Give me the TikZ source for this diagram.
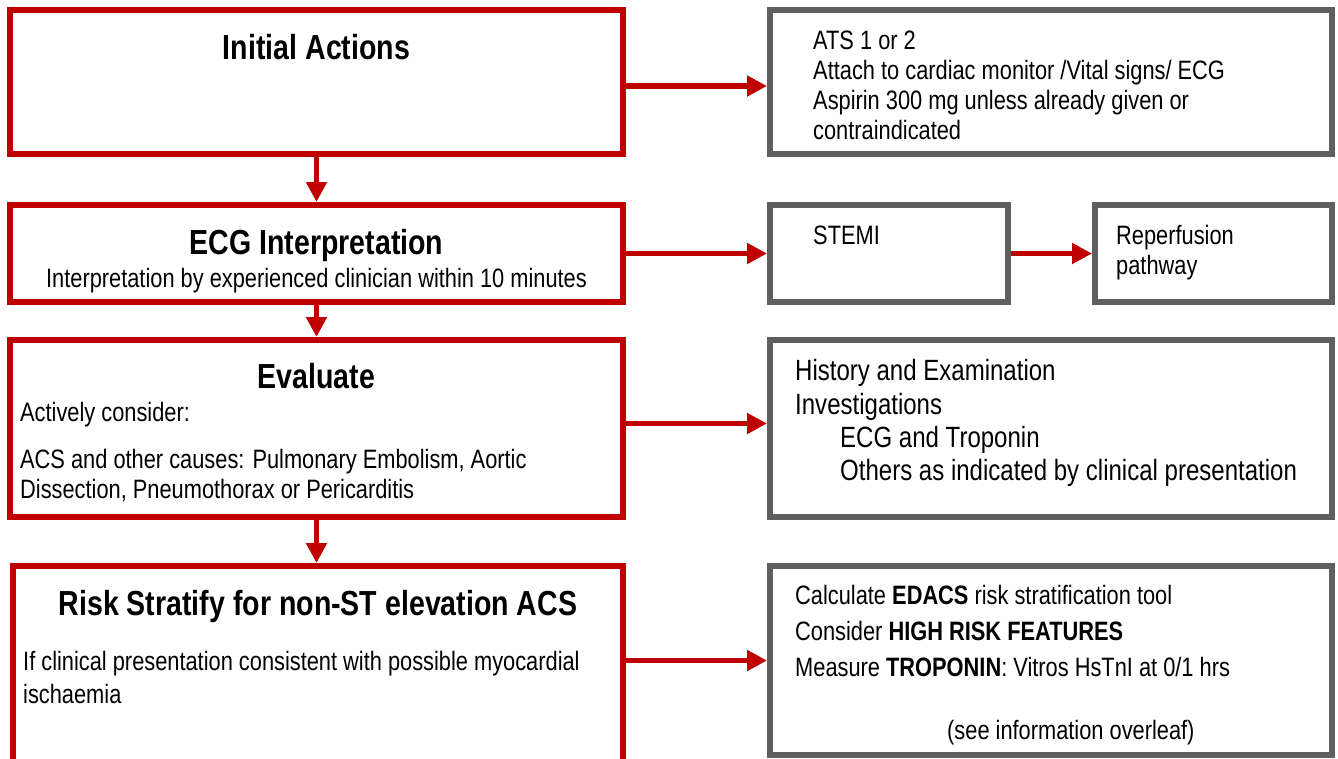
\documentclass[tikz,border=0pt]{standalone}
\usepackage{fontspec}
\setmainfont{Liberation Sans}[FakeStretch=0.82]
\usetikzlibrary{arrows.meta}
\definecolor{cred}{HTML}{C00000}
\definecolor{cgrey}{HTML}{5F5F5F}
\newcommand{\bodyfont}{\fontsize{26.6}{30}\selectfont}
\newcommand{\histfont}{\fontsize{29.3}{33}\selectfont}
\newcommand{\titlefont}{\fontsize{34.8}{40}\selectfont\bfseries}
\tikzset{
  redbox/.style={draw=cred, line width=6pt, fill=white, inner sep=0pt},
  greybox/.style={draw=cgrey, line width=6pt, fill=white, inner sep=0pt},
  arr/.style={draw=cred, line width=5.5pt, -{Triangle[length=20pt,width=20pt]}},
  txt/.style={anchor=base west, inner sep=0pt, font=\bodyfont},
  htxt/.style={anchor=base west, inner sep=0pt, font=\histfont},
  ttl/.style={anchor=base, inner sep=0pt, font=\titlefont},
}
\begin{document}
\begin{tikzpicture}[x=1pt, y=-1pt]
\useasboundingbox (0,0) rectangle (1338,758);
\clip (0,0) rectangle (1338,758);
% boxes
\node[redbox, minimum width=613pt, minimum height=144pt] (b1) at (316.5,82) {};
\node[greybox, minimum width=562pt, minimum height=144pt] (g1) at (1051,82) {};
\node[redbox, minimum width=613pt, minimum height=97pt] (b2) at (316.5,253.5) {};
\node[greybox, minimum width=238pt, minimum height=97pt] (g2) at (889,253.5) {};
\node[greybox, minimum width=237pt, minimum height=97pt] (g3) at (1213.5,253.5) {};
\node[redbox, minimum width=613pt, minimum height=177pt] (b3) at (316.5,428.5) {};
\node[greybox, minimum width=562pt, minimum height=177pt] (g4) at (1051,428.5) {};
\node[redbox, minimum width=610pt, minimum height=198pt] (b4) at (318,665) {};
\node[greybox, minimum width=562pt, minimum height=189pt] (g5) at (1051,660.5) {};
% connectors
\draw[arr] (b1.south) -- (b2.north);
\draw[arr] (b2.south) -- (b3.north);
\draw[arr] (b3.south) -- (b3.south |- b4.north);
\draw[arr] ([yshift=-4pt]b1.east) -- ([yshift=-4pt]g1.west);
\draw[arr] (b2.east) -- (g2.west);
\draw[arr] (g2.east) -- (g3.west);
\draw[arr] ([yshift=5pt]b3.east) -- ([yshift=5pt]g4.west);
\draw[arr] (g5.west -| b4.east) -- (g5.west);
% texts
\node[ttl] (t1) at (316.5,59) {Initial Actions};
\node[txt] (g1a) at (813,49) {ATS 1 or 2};
\node[txt] (g1b) at (813,79) {Attach to cardiac monitor /Vital signs/ ECG};
\node[txt] (g1c) at (813,109) {Aspirin 300 mg unless already given or};
\node[txt] (g1d) at (813,139) {contraindicated};
\node[ttl] (t2) at (316.5,254) {ECG Interpretation};
\node[anchor=base, inner sep=0pt, font=\bodyfont] (t2b) at (316.5,287) {Interpretation by experienced clinician within 10 minutes};
\node[txt] (g2a) at (813,244) {STEMI};
\node[txt] (g3a) at (1116,244) {Reperfusion};
\node[txt] (g3b) at (1116,274) {pathway};
\node[ttl] (t3) at (316.5,388) {Evaluate};
\node[txt] (t3a) at (20,421) {Actively consider:};
\node[txt] (t3b) at (20,468) {ACS and other causes: Pulmonary Embolism, Aortic};
\node[txt] (t3c) at (20,498) {Dissection, Pneumothorax or Pericarditis};
\node[htxt] (g4a) at (795,380) {History and Examination};
\node[htxt] (g4b) at (795,414) {Investigations};
\node[htxt] (g4c) at (840,447) {ECG and Troponin};
\node[htxt] (g4d) at (840,480) {Others as indicated by clinical presentation};
\node[ttl] (t4) at (318,615) {Risk Stratify for non-ST elevation ACS};
\node[txt] (t4a) at (23,670) {If clinical presentation consistent with possible myocardial};
\node[txt] (t4b) at (23,703) {ischaemia};
\node[txt] (g5a) at (795,604) {Calculate \textbf{EDACS} risk stratification tool};
\node[txt] (g5b) at (795,640) {Consider \textbf{HIGH RISK FEATURES}};
\node[txt] (g5c) at (795,676) {Measure \textbf{TROPONIN}: Vitros HsTnI at 0/1 hrs};
\node[txt] (g5d) at (947,739) {(see information overleaf)};
\end{tikzpicture}
\end{document}
